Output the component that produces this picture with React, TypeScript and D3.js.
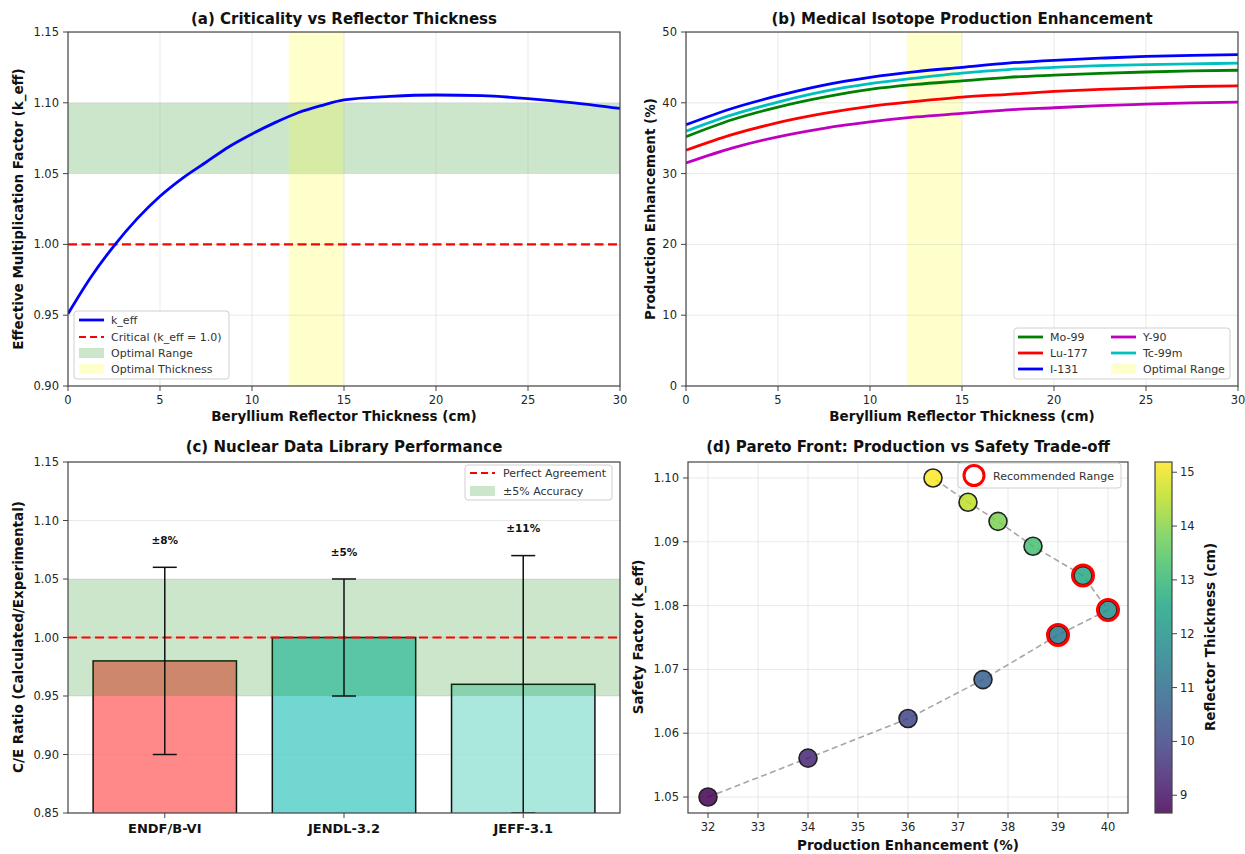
import React from 'react';
import * as d3 from 'd3';

// (a) criticality vs reflector thickness
const thicknessA = [0, 1.25, 2.5, 3.75, 5, 6.25, 7.5, 8.75, 10, 11.25, 12.5, 13.75, 15, 17.5, 20, 22.5, 25, 27.5, 30];
const kEff = [0.951, 0.977, 0.999, 1.018, 1.034, 1.047, 1.058, 1.069, 1.078, 1.086, 1.093, 1.098, 1.102, 1.1045, 1.1055, 1.105, 1.103, 1.1, 1.096];

// (b) isotope production enhancement (%)
const thicknessB = [0, 2.5, 5, 7.5, 10, 12.5, 15, 17.5, 20, 22.5, 25, 27.5, 30];
const mo99 = [35.2, 37.6, 39.4, 40.8, 41.9, 42.6, 43.1, 43.6, 43.9, 44.15, 44.35, 44.5, 44.6];
const lu177 = [33.3, 35.5, 37.2, 38.5, 39.5, 40.2, 40.8, 41.2, 41.6, 41.9, 42.1, 42.3, 42.4];
const i131 = [36.9, 39.2, 41.0, 42.5, 43.6, 44.4, 45.0, 45.6, 46.0, 46.3, 46.55, 46.7, 46.8];
const y90 = [31.5, 33.6, 35.2, 36.4, 37.3, 38.0, 38.5, 39.0, 39.3, 39.6, 39.8, 40.0, 40.1];
const tc99m = [36.0, 38.3, 40.1, 41.6, 42.7, 43.5, 44.2, 44.7, 45.0, 45.25, 45.4, 45.5, 45.6];
const isotopeNames = ['Mo-99', 'Lu-177', 'I-131', 'Y-90', 'Tc-99m'];
const isotopeColors = ['#008000', '#ff0000', '#0000ff', '#bf00bf', '#00bfbf'];

// (c) nuclear data libraries
const libraries = ['ENDF/B-VI', 'JENDL-3.2', 'JEFF-3.1'];
const ceRatio = [0.98, 1.0, 0.96];
const ceError = [0.08, 0.05, 0.11];
const ceLabels = ['±8%', '±5%', '±11%'];
const barColors = ['#FF6B6B', '#4ECDC4', '#95E1D3'];

// (d) pareto front
const paretoProd = [32, 34, 36, 37.5, 39, 40, 39.5, 38.5, 37.8, 37.2, 36.5];
const paretoSafety = [1.05, 1.0561, 1.0623, 1.0684, 1.0754, 1.0793, 1.0847, 1.0893, 1.0932, 1.0962, 1.1];
const paretoThick = [8.67, 9.32, 9.97, 10.63, 11.28, 11.93, 12.58, 13.23, 13.89, 14.54, 15.19];
const recommended = [4, 5, 6];

const FONT = '"DejaVu Sans", sans-serif';
const TICK = 11.5;
const LAB = 13.5;
const TITLE = 15;
const LEG = 11;

function Grid({ x, y, xTicks, yTicks }: any) {
  const [l, r] = x.range();
  const [b, t] = y.range();
  return (
    <g stroke="#b0b0b0" strokeOpacity={0.35} strokeWidth={0.8}>
      {(xTicks || []).map((v: number) => <line key={'gx' + v} x1={x(v)} x2={x(v)} y1={t} y2={b} />)}
      {(yTicks || []).map((v: number) => <line key={'gy' + v} x1={l} x2={r} y1={y(v)} y2={y(v)} />)}
    </g>
  );
}

function Frame({ x, y, xTicks, yTicks, xFmt, yFmt }: any) {
  const [l, r] = x.range();
  const [b, t] = y.range();
  return (
    <g>
      {xTicks.map((v: number) => (
        <g key={'xt' + v}>
          <line x1={x(v)} x2={x(v)} y1={b} y2={b + 5} stroke="#444" />
          <text x={x(v)} y={b + 18} textAnchor="middle" fontSize={TICK} fill="#262626">{xFmt(v)}</text>
        </g>
      ))}
      {yTicks.map((v: number) => (
        <g key={'yt' + v}>
          <line x1={l - 5} x2={l} y1={y(v)} y2={y(v)} stroke="#444" />
          <text x={l - 9} y={y(v) + 4} textAnchor="end" fontSize={TICK} fill="#262626">{yFmt(v)}</text>
        </g>
      ))}
      <rect x={l} y={t} width={r - l} height={b - t} fill="none" stroke="#444" strokeWidth={1.2} />
    </g>
  );
}

function Title({ x, y, text }: any) {
  return <text x={x} y={y} textAnchor="middle" fontSize={TITLE} fontWeight="bold" fill="#111">{text}</text>;
}

function XLabel({ x, y, text }: any) {
  return <text x={x} y={y} textAnchor="middle" fontSize={LAB} fontWeight="bold" fill="#111">{text}</text>;
}

function YLabel({ x, y, text }: any) {
  return (
    <text transform={`translate(${x},${y}) rotate(-90)`} textAnchor="middle" dominantBaseline="central"
      fontSize={LAB} fontWeight="bold" fill="#111">{text}</text>
  );
}

function LegendBox({ x, y, w, h }: any) {
  return <rect x={x} y={y} width={w} height={h} rx={3} fill="#fff" fillOpacity={0.85} stroke="#d0d0d0" />;
}

function Handle({ kind, color, x, y }: any) {
  if (kind === 'patch') {
    return <rect x={x} y={y - 5} width={25} height={10} fill={color} fillOpacity={0.2} />;
  }
  return (
    <line x1={x} x2={x + 25} y1={y} y2={y} stroke={color} strokeWidth={kind === 'dash' ? 2.2 : 2.8}
      strokeDasharray={kind === 'dash' ? '7,4' : undefined} />
  );
}

function LegendText({ x, y, text }: any) {
  return <text x={x} y={y + 4} fontSize={LEG} fill="#333">{text}</text>;
}

function PanelA() {
  const x = d3.scaleLinear().domain([0, 30]).range([68, 620]);
  const y = d3.scaleLinear().domain([0.9, 1.15]).range([386, 32]);
  const line = d3.line<number>().x((_, i) => x(thicknessA[i])).y(d => y(d)).curve(d3.curveMonotoneX);
  const xt = x.ticks(6);
  const yt = y.ticks(5);
  const rows = [320, 337, 353, 369];
  return (
    <g>
      <clipPath id="clipA"><rect x={68} y={32} width={552} height={354} /></clipPath>
      <g clipPath="url(#clipA)">
        <rect x={x(0)} width={x(30) - x(0)} y={y(1.1)} height={y(1.05) - y(1.1)} fill="green" fillOpacity={0.2} />
        <rect x={x(12)} width={x(15) - x(12)} y={y(1.15)} height={y(0.9) - y(1.15)} fill="yellow" fillOpacity={0.2} />
        <Grid x={x} y={y} xTicks={xt} yTicks={yt} />
        <line x1={x(0)} x2={x(30)} y1={y(1.0)} y2={y(1.0)} stroke="#ff0000" strokeWidth={2.2} strokeDasharray="9,4.5" />
        <path d={line(kEff) || ''} fill="none" stroke="#0000ff" strokeWidth={2.8} />
      </g>
      <Frame x={x} y={y} xTicks={xt} yTicks={yt} xFmt={d3.format('d')} yFmt={d3.format('.2f')} />
      <Title x={344} y={24} text="(a) Criticality vs Reflector Thickness" />
      <XLabel x={344} y={421} text="Beryllium Reflector Thickness (cm)" />
      <YLabel x={18} y={209} text="Effective Multiplication Factor (k_eff)" />
      <LegendBox x={74} y={311} w={155} h={68} />
      <Handle kind="line" color="#0000ff" x={79} y={rows[0]} />
      <Handle kind="dash" color="#ff0000" x={79} y={rows[1]} />
      <Handle kind="patch" color="green" x={79} y={rows[2]} />
      <Handle kind="patch" color="yellow" x={79} y={rows[3]} />
      <LegendText x={111} y={rows[0]} text="k_eff" />
      <LegendText x={111} y={rows[1]} text="Critical (k_eff = 1.0)" />
      <LegendText x={111} y={rows[2]} text="Optimal Range" />
      <LegendText x={111} y={rows[3]} text="Optimal Thickness" />
    </g>
  );
}

function PanelB() {
  const x = d3.scaleLinear().domain([0, 30]).range([686, 1238]);
  const y = d3.scaleLinear().domain([0, 50]).range([386, 32]);
  const line = d3.line<number>().x((_, i) => x(thicknessB[i])).y(d => y(d)).curve(d3.curveMonotoneX);
  const xt = x.ticks(6);
  const yt = y.ticks(5);
  const series = [mo99, lu177, i131, y90, tc99m];
  const rows = [337, 353, 369];
  return (
    <g>
      <clipPath id="clipB"><rect x={686} y={32} width={552} height={354} /></clipPath>
      <g clipPath="url(#clipB)">
        <rect x={x(12)} width={x(15) - x(12)} y={y(50)} height={y(0) - y(50)} fill="yellow" fillOpacity={0.2} />
        <Grid x={x} y={y} xTicks={xt} yTicks={yt} />
        {series.map((s, i) => (
          <path key={isotopeNames[i]} d={line(s) || ''} fill="none" stroke={isotopeColors[i]} strokeWidth={2.8} />
        ))}
      </g>
      <Frame x={x} y={y} xTicks={xt} yTicks={yt} xFmt={d3.format('d')} yFmt={d3.format('d')} />
      <Title x={962} y={24} text="(b) Medical Isotope Production Enhancement" />
      <XLabel x={962} y={421} text="Beryllium Reflector Thickness (cm)" />
      <YLabel x={650} y={209} text="Production Enhancement (%)" />
      <LegendBox x={1014} y={328} w={216} h={51} />
      {isotopeNames.map((n, i) => {
        const col = i < 3 ? 0 : 1;
        const row = i < 3 ? i : i - 3;
        const hx = col === 0 ? 1018 : 1111;
        return (
          <g key={n}>
            <Handle kind="line" color={isotopeColors[i]} x={hx} y={rows[row]} />
            <LegendText x={hx + 32} y={rows[row]} text={n} />
          </g>
        );
      })}
      <Handle kind="patch" color="yellow" x={1111} y={rows[2]} />
      <LegendText x={1143} y={rows[2]} text="Optimal Range" />
    </g>
  );
}

function PanelC() {
  const x = d3.scaleBand().domain(libraries).range([68, 620]).paddingInner(0.2).paddingOuter(0.14);
  const y = d3.scaleLinear().domain([0.85, 1.15]).range([813, 462]);
  const yt = y.ticks(6);
  const fakeX = d3.scaleLinear().range([68, 620]);
  return (
    <g>
      <clipPath id="clipC"><rect x={68} y={462} width={552} height={351} /></clipPath>
      <g clipPath="url(#clipC)">
        <Grid x={fakeX} y={y} yTicks={yt} />
        {libraries.map((lib, i) => (
          <rect key={lib} x={x(lib)} width={x.bandwidth()} y={y(ceRatio[i])} height={y(0.85) - y(ceRatio[i]) + 2}
            fill={barColors[i]} fillOpacity={0.8} stroke="#111" strokeWidth={1.5} />
        ))}
        <rect x={68} width={552} y={y(1.05)} height={y(0.95) - y(1.05)} fill="green" fillOpacity={0.2} />
        <line x1={68} x2={620} y1={y(1.0)} y2={y(1.0)} stroke="#ff0000" strokeWidth={2.2} strokeDasharray="9,4.5" />
        {libraries.map((lib, i) => {
          const cx = (x(lib) || 0) + x.bandwidth() / 2;
          const top = y(ceRatio[i] + ceError[i]);
          const bot = y(ceRatio[i] - ceError[i]);
          return (
            <g key={'e' + lib} stroke="#111" strokeWidth={1.5}>
              <line x1={cx} x2={cx} y1={top} y2={bot} />
              <line x1={cx - 12} x2={cx + 12} y1={top} y2={top} />
              <line x1={cx - 12} x2={cx + 12} y1={bot} y2={bot} />
            </g>
          );
        })}
      </g>
      {libraries.map((lib, i) => {
        const cx = (x(lib) || 0) + x.bandwidth() / 2;
        return (
          <g key={'l' + lib}>
            <text x={cx} y={y(ceRatio[i] + ceError[i] + 0.02)} textAnchor="middle" fontSize={10.5} fontWeight="bold" fill="#111">{ceLabels[i]}</text>
            <line x1={cx} x2={cx} y1={813} y2={818} stroke="#444" />
            <text x={cx} y={833} textAnchor="middle" fontSize={13} fontWeight="bold" fill="#111">{lib}</text>
          </g>
        );
      })}
      <Frame x={fakeX} y={y} xTicks={[]} yTicks={yt} xFmt={String} yFmt={d3.format('.2f')} />
      <Title x={344} y={452} text="(c) Nuclear Data Library Performance" />
      <YLabel x={18} y={637} text="C/E Ratio (Calculated/Experimental)" />
      <LegendBox x={465} y={465} w={147} h={35} />
      <Handle kind="dash" color="#ff0000" x={470} y={473} />
      <Handle kind="patch" color="green" x={470} y={491} />
      <LegendText x={503} y={473} text="Perfect Agreement" />
      <LegendText x={503} y={491} text="±5% Accuracy" />
    </g>
  );
}

function PanelD() {
  const x = d3.scaleLinear().domain([31.6, 40.4]).range([688, 1128]);
  const y = d3.scaleLinear().domain([1.0475, 1.1025]).range([813, 462]);
  const xt = x.ticks(9);
  const yt = y.ticks(5);
  const ext = d3.extent(paretoThick) as [number, number];
  const color = d3.scaleSequential(d3.interpolateViridis).domain(ext);
  const cb = d3.scaleLinear().domain(ext).range([813, 462]);
  const line = d3.line<number>().x(d => x(d)).y((_, i) => y(paretoSafety[i]));
  const stops = d3.range(0, 1.0001, 0.1);
  return (
    <g>
      <defs>
        <linearGradient id="viridisBar" x1="0" y1="1" x2="0" y2="0">
          {stops.map(t => <stop key={t} offset={t} stopColor={d3.interpolateViridis(t)} />)}
        </linearGradient>
      </defs>
      <Grid x={x} y={y} xTicks={xt} yTicks={yt} />
      <path d={line(paretoProd) || ''} fill="none" stroke="#808080" strokeOpacity={0.7} strokeWidth={1.6} strokeDasharray="6,3.5" />
      {paretoProd.map((p, i) => (
        <circle key={'p' + i} cx={x(p)} cy={y(paretoSafety[i])} r={9} fill={color(paretoThick[i])} fillOpacity={0.85}
          stroke="#222" strokeWidth={1.6} />
      ))}
      {recommended.map(i => (
        <circle key={'r' + i} cx={x(paretoProd[i])} cy={y(paretoSafety[i])} r={10.5} fill="none" stroke="#ff0000" strokeWidth={3} />
      ))}
      <Frame x={x} y={y} xTicks={xt} yTicks={yt} xFmt={d3.format('d')} yFmt={d3.format('.2f')} />
      <Title x={908} y={452} text="(d) Pareto Front: Production vs Safety Trade-off" />
      <XLabel x={908} y={850} text="Production Enhancement (%)" />
      <YLabel x={638} y={637} text="Safety Factor (k_eff)" />
      <LegendBox x={958} y={463} w={163} h={25} />
      <circle cx={974} cy={475.5} r={10} fill="none" stroke="#ff0000" strokeWidth={3} />
      <LegendText x={993} y={475.5} text="Recommended Range" />
      {/* colorbar */}
      <rect x={1155} y={462} width={17} height={351} fill="url(#viridisBar)" fillOpacity={0.85} />
      <rect x={1155} y={462} width={17} height={351} fill="none" stroke="#444" strokeWidth={1.2} />
      {cb.ticks(6).map(v => (
        <g key={'cb' + v}>
          <line x1={1172} x2={1177} y1={cb(v)} y2={cb(v)} stroke="#444" />
          <text x={1180} y={cb(v) + 4} fontSize={TICK} fill="#262626">{v}</text>
        </g>
      ))}
      <YLabel x={1210} y={637} text="Reflector Thickness (cm)" />
    </g>
  );
}

export default function App() {
  return (
    <svg width={1245} height={854} fontFamily={FONT}
      style={{ position: 'absolute', left: 0, top: 0, background: '#fff' }}>
      <rect width={1245} height={854} fill="#fff" />
      <PanelA />
      <PanelB />
      <PanelC />
      <PanelD />
    </svg>
  );
}
